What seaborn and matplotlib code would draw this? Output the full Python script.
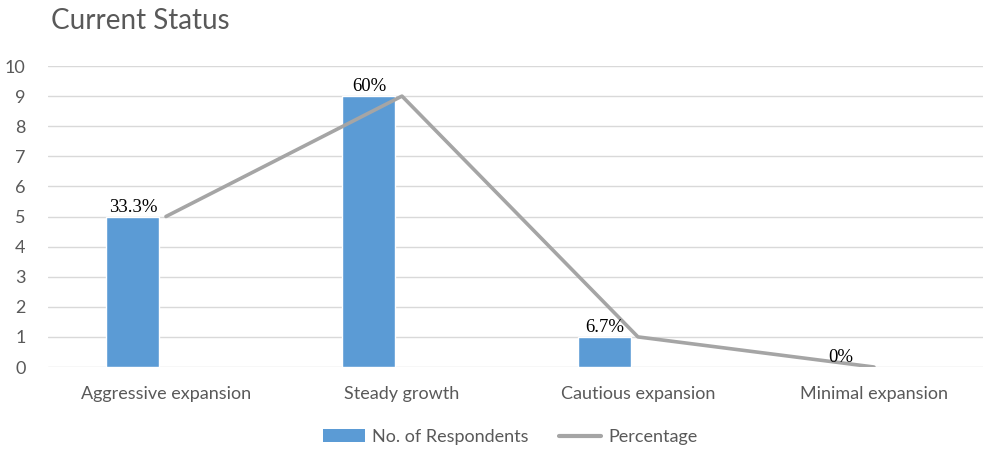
import matplotlib
matplotlib.use("Agg")
import matplotlib.pyplot as plt
from matplotlib.patches import Patch
from matplotlib.lines import Line2D
import numpy as np
import pandas as pd
import seaborn as sns

categories = ["Aggressive expansion", "Steady growth", "Cautious expansion", "Minimal expansion"]
respondents = [5, 9, 1, 0]
percent_labels = ["33.3%", "60%", "6.7%", "0%"]
y_ticks = [0, 1, 2, 3, 4, 5, 6, 7, 8, 9, 10]

BAR_COLOR = "#5b9bd5"
LINE_COLOR = "#a5a5a5"
TEXT_COLOR = "#595959"
GRID_COLOR = "#d9d9d9"

sns.set_theme(style="white")
plt.rcParams["font.family"] = ["Lato", "DejaVu Sans"]

pos = np.arange(len(categories))
df = pd.DataFrame({"pos": pos, "bar_pos": pos - 0.14, "count": respondents, "label": percent_labels})

fig = plt.figure(figsize=(9.83, 4.49), dpi=100)
ax = fig.add_axes([0.0488, 0.1826, 0.9603, 0.6704])

sns.barplot(data=df, x="bar_pos", y="count", native_scale=True, width=0.225,
            color=BAR_COLOR, saturation=1, ax=ax, zorder=2)
sns.lineplot(data=df, x="pos", y="count", sort=False, color=LINE_COLOR,
             linewidth=2.6, ax=ax, zorder=3)

# Percentage labels above each bar
for _, row in df.iterrows():
    ax.annotate(row["label"], xy=(row["bar_pos"], row["count"]), xytext=(0, 0.5),
                textcoords="offset points", ha="center", va="bottom",
                fontsize=13.5, family="Liberation Serif", color="black", zorder=4)

ax.set_xlim(-0.5, len(categories) - 0.5)
ax.set_ylim(0, 10)
ax.set_yticks(y_ticks)
ax.set_xticks(pos)
ax.set_xticklabels(categories)
ax.set_xlabel("")
ax.set_ylabel("")
ax.tick_params(axis="both", length=0, labelsize=13, labelcolor=TEXT_COLOR)
ax.tick_params(axis="x", pad=14)
ax.tick_params(axis="y", pad=16)
ax.grid(axis="y", color=GRID_COLOR, linewidth=1, zorder=0)
ax.set_axisbelow(True)
for side in ["top", "right", "left", "bottom"]:
    ax.spines[side].set_visible(False)

fig.text(0.052, 0.954, "Current Status", fontsize=20, color=TEXT_COLOR, ha="left", va="center")

handles = [Patch(facecolor=BAR_COLOR, edgecolor="none"),
           Line2D([0], [0], color=LINE_COLOR, linewidth=3)]
fig.legend(handles, ["No. of Respondents", "Percentage"], loc="center",
           bbox_to_anchor=(0.519, 0.027), ncol=2, frameon=False, fontsize=13,
           labelcolor=TEXT_COLOR, handlelength=2.3, handletextpad=0.4, columnspacing=1.7)

fig.savefig("out.png", dpi=100)
